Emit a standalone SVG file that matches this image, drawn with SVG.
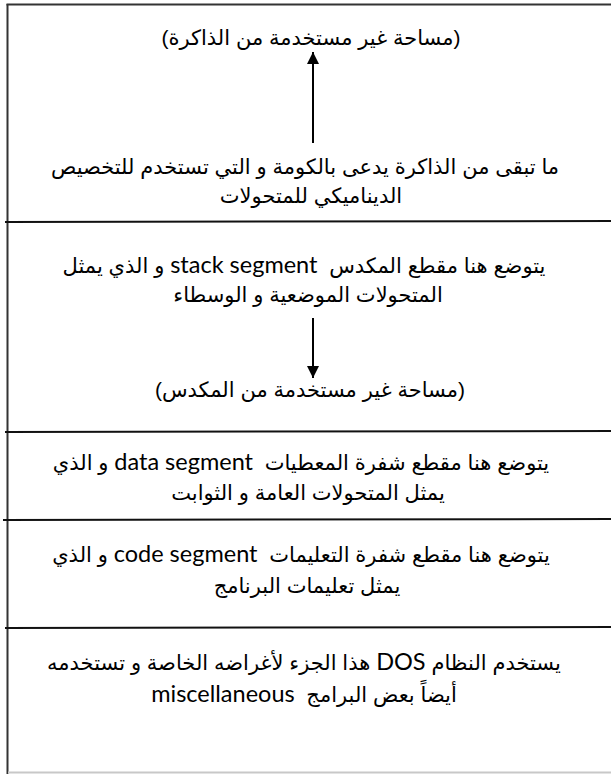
<svg xmlns="http://www.w3.org/2000/svg" width="611" height="774" viewBox="0 0 611 774">
  <style>
    .rule { stroke: #111; stroke-width: 2; fill: none; }
    .edge { stroke: #333; stroke-width: 2; fill: none; }
    .foot { stroke: #c8c8c8; stroke-width: 2; fill: none; }
    .t { font-family: "Liberation Sans", "DejaVu Sans", sans-serif; font-size: 21px; fill: #000; text-anchor: middle; direction: rtl; unicode-bidi: embed; white-space: pre; }
    .lat { font-family: "Lato", "Liberation Sans", sans-serif; font-size: 23.5px; }
    .arrow { stroke: #000; stroke-width: 2; fill: none; }
  </style>
  <defs>
    <marker id="head" viewBox="0 0 10 10" refX="10" refY="5" markerWidth="6.5" markerHeight="6" orient="auto" markerUnits="strokeWidth">
      <path d="M0,0 L10,5 L0,10 z" fill="#000"/>
    </marker>
  </defs>
  <rect width="611" height="774" fill="#fff"/>

  <!-- memory map frame and segment boundaries -->
  <g id="frame">
    <line class="edge" x1="7.5" y1="4" x2="7.5" y2="774"/>
    <line class="edge" x1="6.5" y1="4.5" x2="611" y2="4.5"/>
    <line class="rule" x1="5" y1="222" x2="611" y2="221"/>
    <line class="rule" x1="5" y1="432" x2="611" y2="431"/>
    <line class="rule" x1="3" y1="520" x2="611" y2="519"/>
    <line class="rule" x1="5" y1="628" x2="611" y2="627"/>
    <line class="foot" x1="8" y1="772.5" x2="611" y2="772.5"/>
  </g>

  <g id="heap">
    <text class="t" x="311" y="45">(مساحة غير مستخدمة من الذاكرة)</text>
    <text class="t" x="305" y="174">ما تبقى من الذاكرة يدعى بالكومة و التي تستخدم للتخصيص</text>
    <text class="t" x="311" y="203">الديناميكي للمتحولات</text>
  </g>

  <g id="stack" xml:space="preserve">
    <text class="t" x="304" y="273">يتوضع هنا مقطع المكدس  <tspan class="lat">stack segment</tspan> و الذي يمثل</text>
    <text class="t" x="308" y="302">المتحولات الموضعية و الوسطاء</text>
    <text class="t" x="310" y="397">(مساحة غير مستخدمة من المكدس)</text>
  </g>

  <g id="data" xml:space="preserve">
    <text class="t" x="301" y="470">يتوضع هنا مقطع شفرة المعطيات  <tspan class="lat">data segment</tspan> و الذي</text>
    <text class="t" x="308" y="500">يمثل المتحولات العامة و الثوابت</text>
  </g>

  <g id="code" xml:space="preserve">
    <text class="t" x="301" y="562">يتوضع هنا مقطع شفرة التعليمات  <tspan class="lat">code segment</tspan> و الذي</text>
    <text class="t" x="307" y="593">يمثل تعليمات البرنامج</text>
  </g>

  <g id="dos" xml:space="preserve">
    <text class="t" x="304" y="670">يستخدم النظام <tspan class="lat">DOS</tspan> هذا الجزء لأغراضه الخاصة و تستخدمه</text>
    <text class="t" x="304" y="702">أيضاً بعض البرامج  <tspan class="lat">miscellaneous</tspan></text>
  </g>

  <!-- growth directions of heap and stack -->
  <g id="connectors">
    <line class="arrow" x1="313" y1="143" x2="313" y2="52" marker-end="url(#head)"/>
    <line class="arrow" x1="313" y1="318" x2="313" y2="378" marker-end="url(#head)"/>
  </g>
</svg>
